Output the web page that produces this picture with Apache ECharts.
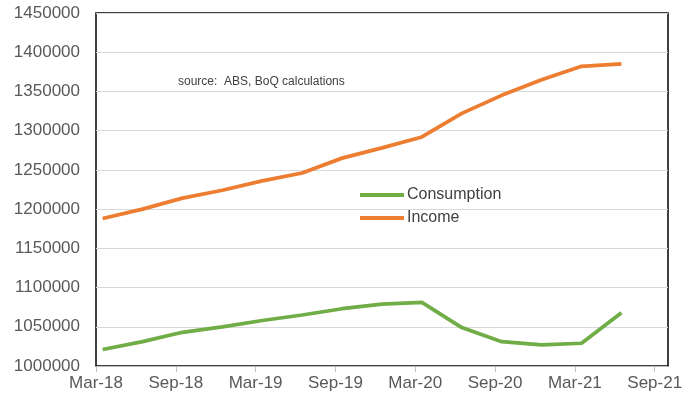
<!DOCTYPE html>
<html>
<head>
<meta charset="utf-8">
<script src="https://cdn.jsdelivr.net/npm/echarts@6/dist/echarts.min.js"></script>
<style>html,body{margin:0;padding:0;background:#fff}#c{width:692px;height:401px}</style>
</head>
<body>
<div id="c"></div>
<script>
// Quarterly periods (months since Mar-18 at the axis start)
const quarters = ['Mar-18','Jun-18','Sep-18','Dec-18','Mar-19','Jun-19','Sep-19','Dec-19','Mar-20','Jun-20','Sep-20','Dec-20','Mar-21','Jun-21'];
const consumption = [1021000,1031000,1043000,1050000,1058000,1065000,1073000,1079000,1081000,1049000,1031000,1027000,1029000,1068000];
const income = [1188000,1200000,1214000,1224000,1236000,1246000,1265000,1278000,1292000,1322000,1345000,1365000,1382000,1385000];
const tickLabels = ['Mar-18','Sep-18','Mar-19','Sep-19','Mar-20','Sep-20','Mar-21','Sep-21'];

// each quarter is 3 months; points sit at month end (half a month past the tick)
const toPts = arr => arr.map((v, i) => [i * 3 + 0.5, v]);

const chart = echarts.init(document.getElementById('c'), null, {renderer: 'canvas'});
const FONT = 'Liberation Sans, Arial, sans-serif';
chart.setOption({
  animation: false,
  backgroundColor: '#fff',
  grid: {left: 96, right: 24, top: 13, bottom: 35, show: true, borderColor: '#000', borderWidth: 1.5, containLabel: false},
  xAxis: {
    type: 'value', min: 0, max: 43, interval: 6,
    axisLine: {show: true, onZero: false, lineStyle: {color: '#bfbfbf', width: 1}},
    axisTick: {show: true, length: 6, lineStyle: {color: '#bfbfbf'}},
    splitLine: {show: false},
    axisLabel: {
      color: '#595959', fontFamily: FONT, fontSize: 17, margin: 9,
      showMaxLabel: false,
      formatter: v => (v % 6 === 0 ? (tickLabels[v / 6] || '') : '')
    }
  },
  yAxis: {
    type: 'value', min: 1000000, max: 1450000, interval: 50000,
    axisLine: {show: false},
    axisTick: {show: false},
    splitLine: {show: true, lineStyle: {color: '#d9d9d9', width: 1}},
    axisLabel: {color: '#595959', fontFamily: FONT, fontSize: 17, margin: 16, formatter: v => String(v)}
  },
  legend: {
    left: 355, top: 182, orient: 'vertical', icon: 'rect', itemWidth: 44, itemHeight: 4, itemGap: 7,
    textStyle: {color: '#404040', fontFamily: FONT, fontSize: 16, padding: [0, 0, 0, -2]},
    data: ['Consumption', 'Income']
  },
  graphic: [{
    type: 'text', left: 178, top: 76,
    style: {text: 'source:  ABS, BoQ calculations', fill: '#404040', font: '12px ' + FONT}
  }],
  series: [
    {name: 'Consumption', type: 'line', data: toPts(consumption), showSymbol: false, symbol: 'none',
     lineStyle: {color: '#70ad47', width: 3.75}, itemStyle: {color: '#70ad47'}},
    {name: 'Income', type: 'line', data: toPts(income), showSymbol: false, symbol: 'none',
     lineStyle: {color: '#ed7d31', width: 3.75}, itemStyle: {color: '#ed7d31'}}
  ]
});
</script>
</body>
</html>
